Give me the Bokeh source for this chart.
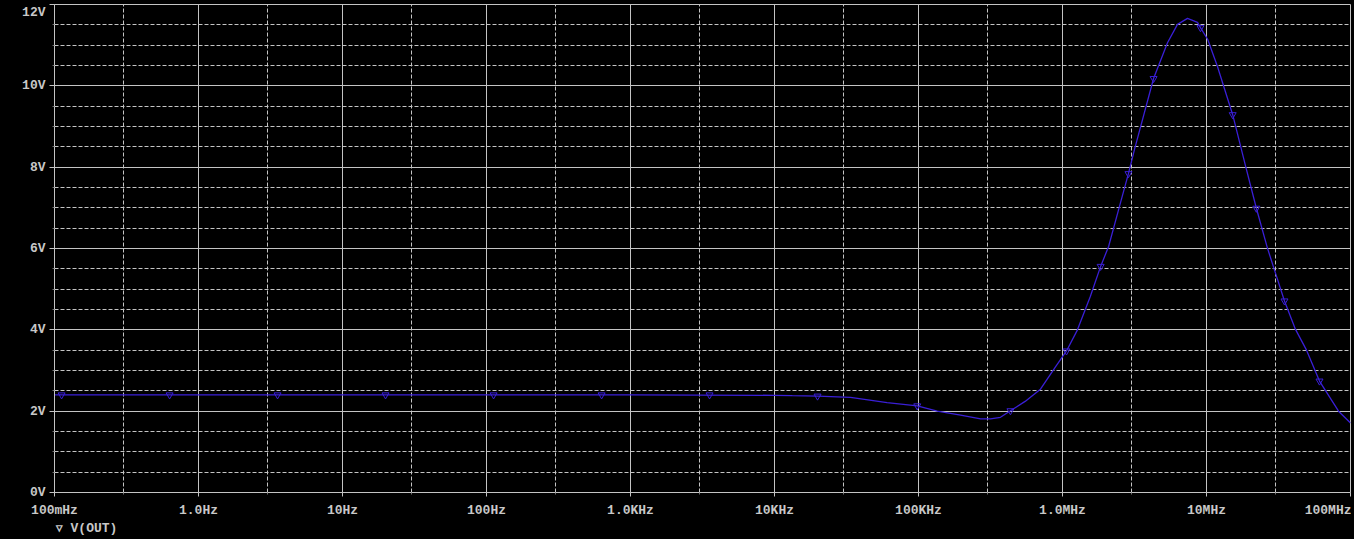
from bokeh.plotting import figure
from bokeh.models import FixedTicker, CustomJSTickFormatter, LogAxis
from bokeh.embed import file_html
from bokeh.resources import INLINE

# ---- data ----
freq_hz = [0.1, 1, 10, 100, 1e3, 1e4, 1.33e4, 2.0e4, 3.37e4, 6.05e4, 9.8e4,
           1.35e5, 1.96e5, 2.7e5, 3.16e5, 3.71e5, 4.35e5, 5.5e5, 7.03e5, 8.94e5,
           1.066e6, 1.27e6, 1.56e6, 1.84e6, 2.09e6, 2.45e6, 2.87e6, 3.16e6,
           4.29e6, 5.36e6, 6.29e6, 7.38e6, 8.66e6, 9.08e6, 1.02e7, 1.19e7,
           1.52e7, 1.87e7, 2.22e7, 2.65e7, 3.01e7, 3.48e7, 4.15e7, 4.95e7,
           6.09e7, 8.26e7, 1e8]
v_out = [2.40, 2.40, 2.40, 2.40, 2.40, 2.39, 2.38, 2.37, 2.34, 2.21, 2.13,
         2.00, 1.90, 1.81, 1.81, 1.85, 2.01, 2.24, 2.54, 3.09,
         3.48, 4.00, 4.82, 5.56, 6.05, 6.95, 7.84, 8.43,
         10.18, 11.06, 11.51, 11.66, 11.56, 11.43, 11.14, 10.48,
         9.29, 8.02, 6.99, 6.01, 5.40, 4.71, 4.01, 3.50,
         2.74, 2.00, 1.71]

marker_freq_hz = [0.112, 0.63, 3.54, 19.9, 112, 630, 3540, 19900, 98000,
                  435000, 1.066e6, 1.84e6, 2.87e6, 4.29e6, 9.08e6, 1.52e7,
                  2.22e7, 3.48e7, 6.09e7]
marker_v = [2.40, 2.40, 2.40, 2.40, 2.40, 2.40, 2.40, 2.37, 2.13, 2.01, 3.48,
            5.56, 7.84, 10.18, 11.43, 9.29, 6.99, 4.71, 2.74]

x_major_ticks = [0.1, 1, 10, 100, 1e3, 1e4, 1e5, 1e6, 1e7, 1e8]
x_minor_ticks = [0.3, 3, 30, 300, 3e3, 3e4, 3e5, 3e6, 3e7]
x_tick_labels = ["100mHz", "1.0Hz", "10Hz", "100Hz", "1.0KHz", "10KHz",
                 "100KHz", "1.0MHz", "10MHz", "100MHz"]
y_major_ticks = [0, 2, 4, 6, 8, 10, 12]
y_minor_ticks = [0.5, 1, 1.5, 2.5, 3, 3.5, 4.5, 5, 5.5, 6.5, 7, 7.5,
                 8.5, 9, 9.5, 10.5, 11, 11.5]
series_name = "V(OUT)"
legend_texts = ["\u25bf", series_name]
legend_anchor_hz = [0.1083, 0.188]   # where the legend texts sit on the x scale
x_title = "Frequency"

# ---- style ----
TRACE = "#3a1fd6"
GRID = "#c4c4c4"
TXT = "#c8c8c8"
FONT = "Liberation Mono"
FS = "13px"

p = figure(frame_width=1296, frame_height=488, x_axis_type="log",
           x_range=(0.1, 1e8), y_range=(0, 12),
           background_fill_color="black", border_fill_color="black",
           min_border_left=46, min_border_right=1, min_border_top=0,
           min_border_bottom=0, output_backend="svg",
           toolbar_location=None)
p.outline_line_color = GRID
p.outline_line_width = 1

xt = FixedTicker(ticks=x_major_ticks, minor_ticks=x_minor_ticks)
yt = FixedTicker(ticks=y_major_ticks, minor_ticks=y_minor_ticks)
p.xaxis.ticker = xt
p.xgrid.ticker = xt
p.yaxis.ticker = yt
p.ygrid.ticker = yt

p.xaxis.formatter = CustomJSTickFormatter(
    args=dict(labels=x_tick_labels),
    code="const i = Math.round(Math.log10(tick)) + 1; return labels[i];")
p.yaxis.formatter = CustomJSTickFormatter(
    code="return Math.round(tick).toString() + 'V';")

for g in (p.xgrid, p.ygrid):
    g.grid_line_color = GRID
    g.grid_line_width = 1
    g.minor_grid_line_color = GRID
    g.minor_grid_line_width = 1
    g.minor_grid_line_dash = "4 2"

for ax in (p.xaxis, p.yaxis):
    ax.axis_label = None
    ax.axis_label_standoff = 0
    ax.axis_line_color = GRID
    ax.major_tick_line_color = GRID
    ax.minor_tick_line_color = "#707070"
    ax.major_tick_in = 0
    ax.minor_tick_in = 0
    ax.major_label_text_color = TXT
    ax.major_label_text_font = FONT
    ax.major_label_text_font_size = FS
    ax.major_label_text_font_style = "bold"

p.xaxis.major_tick_out = 4
p.xaxis.minor_tick_out = 2
p.xaxis.major_label_standoff = 6
p.yaxis.major_tick_out = 5
p.yaxis.minor_tick_out = 2
p.yaxis.major_label_standoff = 4

p.line(freq_hz, v_out, line_color=TRACE, line_width=1.3)
p.scatter(marker_freq_hz, marker_v, marker="inverted_triangle",
          size=7, fill_color=None, line_color=TRACE, line_width=1)

# second (invisible) bottom axis carrying the legend text and the x title
leg_axis = LogAxis(
    ticker=FixedTicker(ticks=legend_anchor_hz, minor_ticks=[]),
    formatter=CustomJSTickFormatter(args=dict(labels=legend_texts),
                                    code="return labels[index];"),
    axis_line_alpha=0, major_tick_line_alpha=0, minor_tick_line_alpha=0,
    major_tick_in=0, major_tick_out=0, minor_tick_in=0, minor_tick_out=0,
    major_label_standoff=0,
    major_label_text_color=TXT, major_label_text_font=FONT,
    major_label_text_font_size=FS, major_label_text_font_style="bold",
    axis_label=x_title, axis_label_standoff=0,
    axis_label_text_color=TXT, axis_label_text_font=FONT,
    axis_label_text_font_size=FS, axis_label_text_font_style="bold")
p.add_layout(leg_axis, "below")

html = file_html(p, INLINE)
style = ("<style>html,body{background:#000;}"
         "body{margin:4px 0 0 8px;padding:0;overflow:hidden;}</style>")
html = html.replace("</head>", style + "</head>", 1)
open("out.html", "w").write(html)
